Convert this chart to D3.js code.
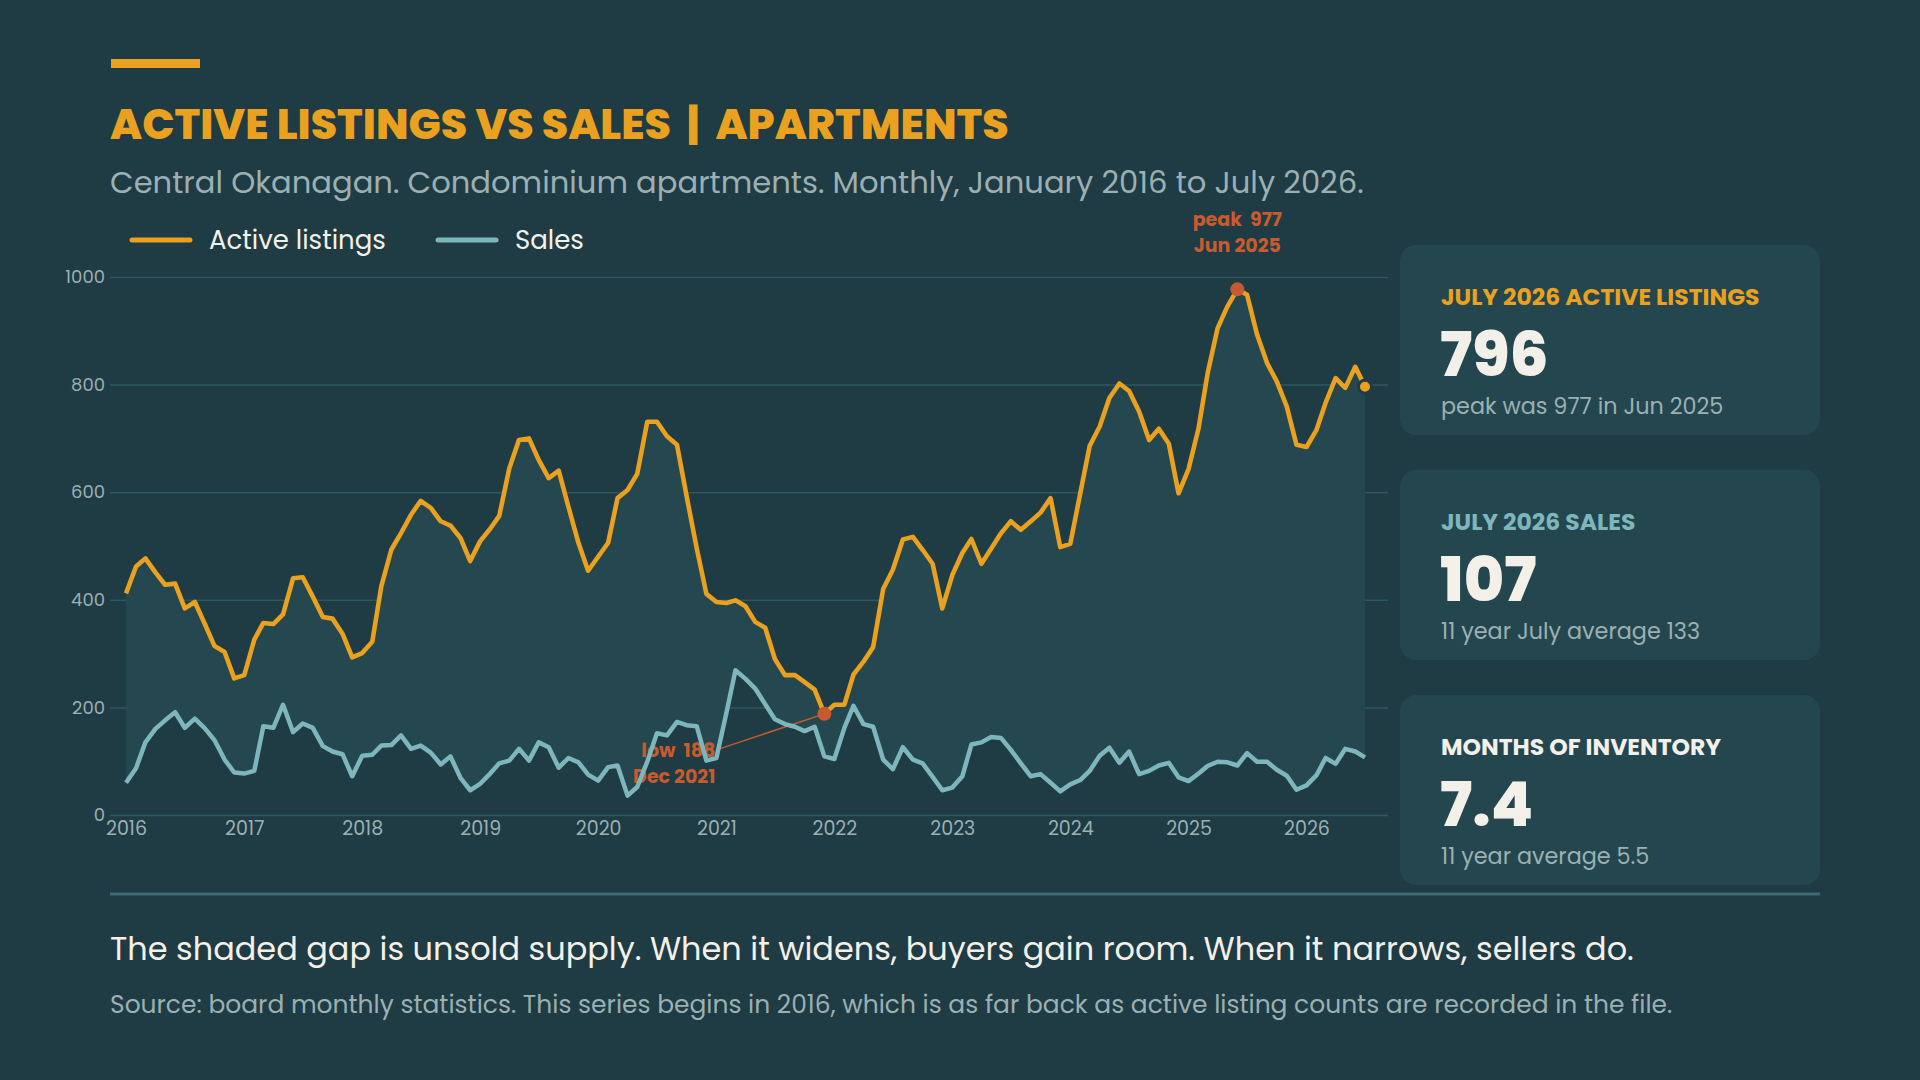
<!DOCTYPE html>
<html lang="en">
<head>
  <meta charset="UTF-8">
  <title>Active listings vs sales</title>
  <script src="https://d3js.org/d3.v7.min.js"></script>
  <style>
    body { margin: 0; background: #1f3b43; }
    svg { display: block; }
    text { font-family: Poppins, Inter, "Noto Sans", sans-serif; }
  </style>
</head>
<body>
  <div id="container"></div>

  <script>
    // monthly values, Jan 2016 .. Jul 2026
    var listings = [
      412, 462, 477, 451, 428, 430, 384, 396, 355, 314, 303, 254,
      260, 326, 357, 355, 373, 440, 442, 406, 368, 365, 337, 293,
      301, 322, 425, 493, 524, 558, 584, 571, 546, 538, 515, 472,
      509, 532, 556, 644, 697, 700, 660, 626, 640, 573, 506, 454,
      480, 506, 589, 604, 634, 731, 731, 704, 688, 592, 496, 411,
      396, 394, 399, 388, 359, 348, 290, 260, 260, 247, 233, 188,
      205, 205, 261, 285, 312, 420, 456, 512, 517, 493, 467, 384,
      446, 487, 513, 467, 495, 524, 546, 530, 546, 562, 589, 498,
      504, 598, 686, 722, 775, 802, 788, 750, 697, 718, 690, 598,
      643, 719, 821, 905, 945, 977, 967, 893, 840, 806, 759, 688,
      684, 716, 766, 812, 794, 833, 796
    ];
    var sales = [
      60, 87, 135, 160, 176, 191, 162, 179, 161, 139, 103, 79,
      77, 82, 165, 162, 205, 154, 170, 162, 128, 118, 113, 72,
      110, 112, 129, 130, 148, 123, 129, 116, 94, 109, 69, 46,
      58, 77, 96, 101, 123, 101, 135, 126, 88, 106, 98, 75,
      64, 89, 92, 36, 52, 99, 152, 148, 173, 167, 165, 101,
      106, 190, 269, 253, 235, 206, 178, 169, 164, 156, 164, 109,
      104, 162, 203, 169, 164, 103, 85, 126, 103, 96, 71, 46,
      51, 72, 131, 135, 145, 143, 121, 96, 72, 76, 60, 44,
      57, 65, 82, 110, 125, 97, 118, 76, 82, 92, 97, 70,
      63, 77, 91, 99, 98, 92, 115, 99, 99, 84, 73, 47,
      55, 74, 106, 95, 123, 118, 107
    ];
    var yTicks = [0, 200, 400, 600, 800, 1000];
    var seriesNames = ["Active listings", "Sales"];
    var cardLabels = ["JULY 2026 ACTIVE LISTINGS", "JULY 2026 SALES", "MONTHS OF INVENTORY"];
    var cardValues = ["796", "107", "7.4"];
    var cardNotes = ["peak was 977 in Jun 2025", "11 year July average 133", "11 year average 5.5"];

    var months = d3.timeMonth.range(new Date(2016, 0, 1), new Date(2026, 7, 1));
    var data = months.map(function (d, i) {
      return { date: d, listings: listings[i], sales: sales[i] };
    });

    var width = 1920, height = 1080;
    var orange = "#e9a11f", teal = "#7db6bd", accent = "#c75b2f",
      bg = "#1f3b43", card = "#24474f", grid = "#2d5860",
      muted = "#9bb0b3", light = "#f3f0e9";

    var svg = d3.select("#container").append("svg")
      .attr("width", width)
      .attr("height", height);

    svg.append("rect").attr("width", width).attr("height", height).attr("fill", bg);

    function fit(sel, w) {
      var cur = sel.node().getComputedTextLength();
      sel.attr("font-size", parseFloat(sel.attr("font-size")) * w / cur);
    }

    // header
    svg.append("rect").attr("x", 111).attr("y", 59).attr("width", 89).attr("height", 9).attr("fill", orange);
    var title = svg.append("text").attr("x", 110).attr("y", 139)
      .attr("font-size", 42).attr("font-weight", 800).attr("fill", orange)
      .style("white-space", "pre")
      .text("ACTIVE LISTINGS VS SALES  |  APARTMENTS");
    fit(title, 899);
    var sub = svg.append("text").attr("x", 110).attr("y", 193)
      .attr("font-size", 29).attr("fill", muted)
      .text("Central Okanagan. Condominium apartments. Monthly, January 2016 to July 2026.");
    fit(sub, 1254);

    // legend
    var legend = svg.append("g");
    [[132, orange, 209], [438, teal, 515]].forEach(function (l, i) {
      legend.append("line").attr("x1", l[0]).attr("x2", l[0] + 58).attr("y1", 240).attr("y2", 240)
        .attr("stroke", l[1]).attr("stroke-width", 5).attr("stroke-linecap", "round");
      legend.append("text").attr("x", l[2]).attr("y", 249).attr("font-size", 26)
        .attr("fill", light).text(seriesNames[i]);
    });

    // scales
    var x = d3.scaleTime()
      .domain([months[0], months[months.length - 1]])
      .range([126, 1365]);
    var y = d3.scaleLinear().domain([0, 1000]).range([815, 277]);

    var yAxis = svg.append("g")
      .attr("transform", "translate(110,0)")
      .call(d3.axisLeft(y).tickValues(yTicks).tickFormat(d3.format("d")).tickSize(-1278).tickPadding(5));
    yAxis.select(".domain").remove();
    yAxis.selectAll(".tick line").attr("stroke", grid).attr("stroke-width", 1.5);
    yAxis.selectAll(".tick text").attr("fill", muted).attr("font-size", 18)
      .attr("font-family", "Poppins, Inter, sans-serif");

    var xAxis = svg.append("g")
      .attr("transform", "translate(0,815)")
      .call(d3.axisBottom(x).ticks(d3.timeYear.every(1)).tickFormat(d3.timeFormat("%Y")).tickSize(0).tickPadding(7));
    xAxis.select(".domain").remove();
    xAxis.selectAll(".tick text").attr("fill", muted).attr("font-size", 19)
      .attr("font-family", "Poppins, Inter, sans-serif");

    // shaded gap
    svg.append("path").datum(data)
      .attr("fill", "#25474f")
      .attr("d", d3.area()
        .x(function (d) { return x(d.date); })
        .y0(function (d) { return y(d.sales); })
        .y1(function (d) { return y(d.listings); }));

    // low annotation (behind the lines)
    var lowI = 71, peakI = 113;
    var lx = x(months[lowI]), ly = y(listings[lowI]);
    svg.append("line").attr("x1", lx).attr("y1", ly).attr("x2", lx - 108).attr("y2", ly + 36)
      .attr("stroke", accent).attr("stroke-width", 1.5);
    var lowText = svg.append("text").attr("x", lx - 109).attr("y", ly + 43)
      .attr("text-anchor", "end").attr("font-size", 19).attr("font-weight", 700).attr("fill", accent)
      .style("white-space", "pre");
    lowText.append("tspan").attr("x", lx - 109).text("low  " + listings[lowI]);
    lowText.append("tspan").attr("x", lx - 109).attr("dy", 26).text("Dec 2021");

    var line = d3.line().x(function (d) { return x(d.date); });
    svg.append("path").datum(data)
      .attr("fill", "none").attr("stroke", teal).attr("stroke-width", 4.5)
      .attr("stroke-linejoin", "round")
      .attr("d", line.y(function (d) { return y(d.sales); }));
    svg.append("path").datum(data)
      .attr("fill", "none").attr("stroke", orange).attr("stroke-width", 4.6)
      .attr("stroke-linejoin", "round")
      .attr("d", line.y(function (d) { return y(d.listings); }));

    svg.append("circle").attr("cx", lx).attr("cy", ly).attr("r", 7).attr("fill", accent);

    // peak annotation
    var px = x(months[peakI]), py = y(listings[peakI]);
    svg.append("circle").attr("cx", px).attr("cy", py).attr("r", 7).attr("fill", accent);
    svg.append("text").attr("x", px).attr("y", py - 63).attr("text-anchor", "middle")
      .attr("font-size", 19).attr("font-weight", 700).attr("fill", accent)
      .style("white-space", "pre")
      .text("peak  " + listings[peakI]);
    svg.append("text").attr("x", px).attr("y", py - 37).attr("text-anchor", "middle")
      .attr("font-size", 19).attr("font-weight", 700).attr("fill", accent)
      .text("Jun 2025");

    // last point
    var last = data[data.length - 1];
    svg.append("circle").attr("cx", x(last.date)).attr("cy", y(last.listings)).attr("r", 6.5)
      .attr("fill", orange).attr("stroke", bg).attr("stroke-width", 3);

    // cards
    var cardTops = [245, 470, 695];
    var labelColors = [orange, teal, light];
    cardTops.forEach(function (top, i) {
      var g = svg.append("g").attr("transform", "translate(1400," + top + ")");
      g.append("rect").attr("width", 420).attr("height", 190).attr("rx", 16).attr("fill", card);
      g.append("text").attr("x", 41).attr("y", 60).attr("font-size", 23.5)
        .attr("font-weight", 700).attr("fill", labelColors[i]).text(cardLabels[i]);
      g.append("text").attr("x", 40).attr("y", 131).attr("font-size", 61.5)
        .attr("font-weight", 800).attr("fill", light).text(cardValues[i]);
      g.append("text").attr("x", 41).attr("y", 169).attr("font-size", 22.3)
        .attr("fill", muted).text(cardNotes[i]);
    });

    // footer
    svg.append("line").attr("x1", 110).attr("x2", 1820).attr("y1", 894).attr("y2", 894)
      .attr("stroke", "#3b6c75").attr("stroke-width", 3);
    var take = svg.append("text").attr("x", 110).attr("y", 960).attr("font-size", 31)
      .attr("fill", light)
      .text("The shaded gap is unsold supply. When it widens, buyers gain room. When it narrows, sellers do.");
    fit(take, 1524);
    var src = svg.append("text").attr("x", 110).attr("y", 1013).attr("font-size", 24)
      .attr("fill", muted)
      .text("Source: board monthly statistics. This series begins in 2016, which is as far back as active listing counts are recorded in the file.");
    fit(src, 1563);
  </script>
</body>
</html>
